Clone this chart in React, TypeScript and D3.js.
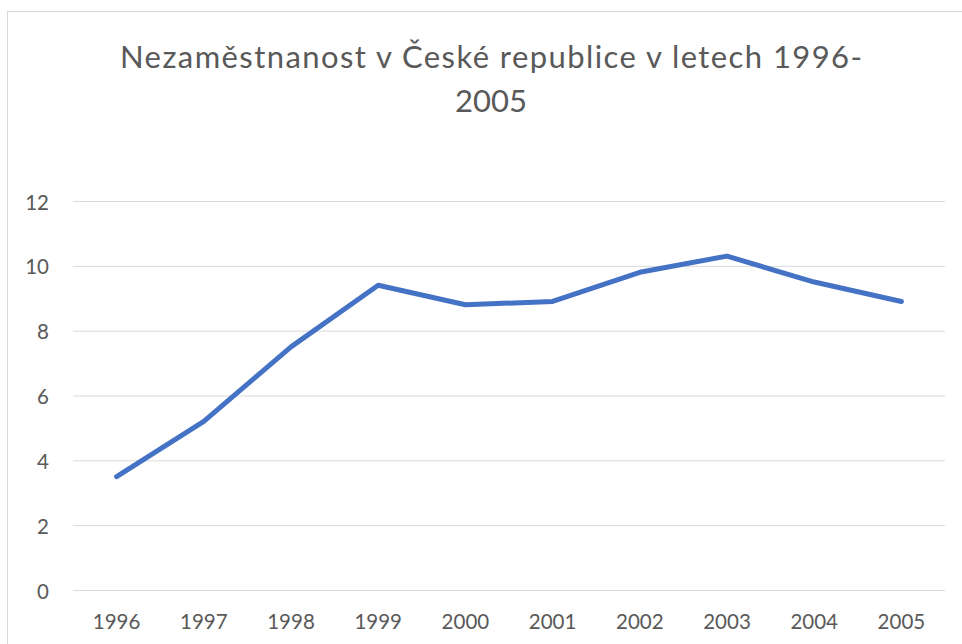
import React, { useEffect, useRef } from "react";
import * as d3 from "d3";

const years = ["1996", "1997", "1998", "1999", "2000", "2001", "2002", "2003", "2004", "2005"];
const unemployment = [3.5, 5.2, 7.5, 9.4, 8.8, 8.9, 9.8, 10.3, 9.5, 8.9];
const yTicks = [0, 2, 4, 6, 8, 10, 12];
const titleLines = ["Nezaměstnanost v České republice v letech 1996-", "2005"];

const width = 962;
const height = 644;
const plot = { left: 73, right: 945, top: 201, bottom: 590 };
const font = "Lato, 'Open Sans', sans-serif";
const textColor = "#595959";

export default function App() {
  const ref = useRef<SVGSVGElement>(null);

  useEffect(() => {
    const svg = d3.select(ref.current);
    svg.selectAll("*").remove();

    // chart frame
    svg
      .append("rect")
      .attr("x", 7.5)
      .attr("y", 11.5)
      .attr("width", 1000)
      .attr("height", 700)
      .attr("fill", "#fff")
      .attr("stroke", "#d9d9d9");

    // title (first line stretched to match the original's width)
    svg
      .append("g")
      .selectAll("text")
      .data(titleLines)
      .enter()
      .append("text")
      .attr("x", 491)
      .attr("y", (d, i) => 68 + i * 44)
      .attr("text-anchor", "middle")
      .attr("textLength", (d, i) => (i === 0 ? 742 : null))
      .style("font-family", font)
      .style("font-size", "31px")
      .style("fill", textColor)
      .text(d => d);

    const x = d3.scaleBand().domain(years).range([plot.left, plot.right]);
    const y = d3.scaleLinear().domain([0, 12]).range([plot.bottom, plot.top]);

    // gridlines
    svg
      .append("g")
      .selectAll("line")
      .data(yTicks)
      .enter()
      .append("line")
      .attr("x1", plot.left)
      .attr("x2", plot.right)
      .attr("y1", d => y(d) + 0.5)
      .attr("y2", d => y(d) + 0.5)
      .attr("stroke", "#d9d9d9")
      .attr("stroke-width", 1);

    // y labels
    svg
      .append("g")
      .selectAll("text")
      .data(yTicks)
      .enter()
      .append("text")
      .attr("x", 49)
      .attr("y", d => y(d))
      .attr("dy", "0.42em")
      .attr("text-anchor", "end")
      .style("font-family", font)
      .style("font-size", "20.5px")
      .style("fill", textColor)
      .text(d => d);

    // x labels
    svg
      .append("g")
      .selectAll("text")
      .data(years)
      .enter()
      .append("text")
      .attr("x", d => (x(d) as number) + x.bandwidth() / 2)
      .attr("y", 629)
      .attr("text-anchor", "middle")
      .style("font-family", font)
      .style("font-size", "20.5px")
      .style("fill", textColor)
      .text(d => d);

    // line
    const line = d3
      .line<number>()
      .x((d, i) => (x(years[i]) as number) + x.bandwidth() / 2)
      .y(d => y(d));

    svg
      .append("path")
      .datum(unemployment)
      .attr("d", line)
      .attr("fill", "none")
      .attr("stroke", "#4472c4")
      .attr("stroke-width", 5)
      .attr("stroke-linecap", "round")
      .attr("stroke-linejoin", "round");
  }, []);

  return (
    <div style={{ position: "fixed", left: 0, top: 0 }}>
      <svg ref={ref} width={width} height={height} style={{ display: "block" }} />
    </div>
  );
}
